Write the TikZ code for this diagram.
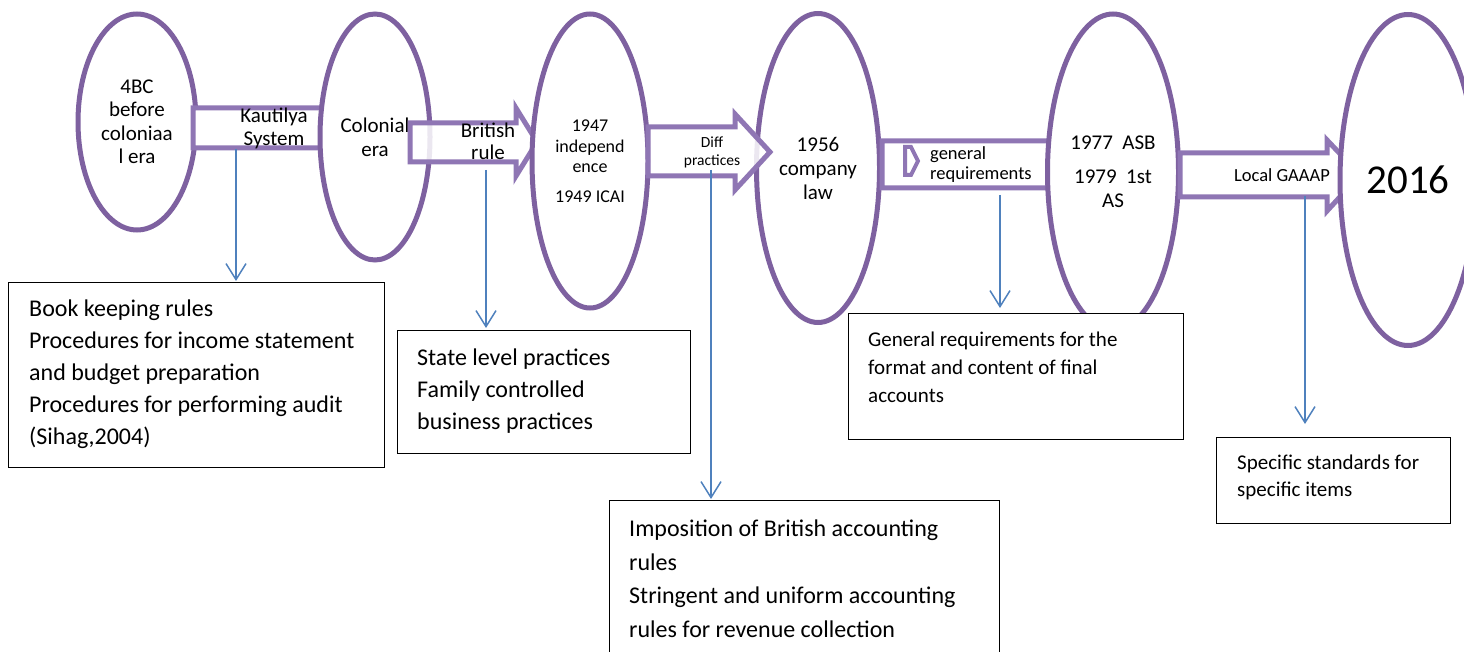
\documentclass[tikz,border=0pt]{standalone}
\usepackage{fontspec}
\setmainfont{Carlito}
\usetikzlibrary{shapes.geometric,arrows.meta}
\definecolor{ellc}{RGB}{126,97,160}
\definecolor{arrc}{RGB}{143,118,180}
\definecolor{bluec}{RGB}{79,129,189}
\begin{document}
\begin{tikzpicture}[x=1pt,y=-1pt,
  era/.style={ellipse, draw=ellc, line width=5pt, fill=white, align=center, inner sep=0pt,
              font=\fontsize{21}{24}\selectfont},
  barrow/.style={draw=arrc, line width=5pt, fill=white, fill opacity=0.85, line join=miter},
  arrtext/.style={align=center, inner sep=0pt},
  infobox/.style={draw=black, line width=1.2pt, fill=white, inner sep=0pt},
  infotext/.style={align=left, inner sep=0pt, anchor=west},
  lead/.style={draw=bluec, line width=1.5pt, -{Straight Barb[length=16pt,width=20pt,line width=1.5pt]}},
]
\useasboundingbox (0,0) rectangle (1464,652);
\clip (0,0) rectangle (1464,652);

% ellipse 1 and first block arrow (its head is hidden by ellipse 2)
\node[era, minimum width=118pt, minimum height=216pt, font=\fontsize{21}{23.5}\selectfont] (e1) at (137,122)
  {4BC\\before\\coloniaa\\l era};
\path[barrow, fill opacity=1] (193,108) -- (345,108) -- (345,96) -- (372,128) -- (345,160) -- (345,148) -- (193,148) -- cycle;

\node[era, minimum width=110pt, minimum height=246pt] (e2) at (375,137) {Colonial\\era};

% block arrow 2
\path[barrow] (410,123) -- (516,123) -- (516,108) -- (537,142) -- (516,176) -- (516,162) -- (410,162) -- cycle;

\node[era, minimum width=116pt, minimum height=294pt, font=\fontsize{18}{20.5}\selectfont] (e3) at (590,161)
  {1947\\independ\\ence\\[9pt]1949 ICAI};
\node[era, minimum width=123pt, minimum height=309pt] (e4) at (818,168) {1956\\company\\law};

% block arrow 3 (on top of ellipse 4)
\path[barrow] (648,127) -- (735,127) -- (735,114) -- (770,152) -- (735,190) -- (735,176) -- (648,176) -- cycle;

% block arrow 4 (head hidden by ellipse 5)
\path[barrow, fill opacity=1] (882,141) -- (1075,141) -- (1075,128) -- (1105,165) -- (1075,202) -- (1075,188) -- (882,188) -- cycle;
\path[draw=arrc, line width=4pt, line join=miter] (905,147) -- (911,147) -- (918,161) -- (911,175) -- (905,175) -- cycle;

\node[era, minimum width=131pt, minimum height=316pt] (e5) at (1113,172)
  {1977~~ASB\\[10pt]1979~~1st\\AS};

% block arrow 5 (cut by ellipse 6)
\path[barrow] (1180,153) -- (1327,153) -- (1327,140) -- (1360,175) -- (1327,211) -- (1327,197) -- (1180,197) -- cycle;

\node[era, minimum width=136pt, minimum height=331pt, font=\fontsize{41}{44}\selectfont] (e6) at (1408,180) {2016};

% block arrow labels
\node[arrtext, font=\fontsize{21}{23}\selectfont] (t1) at (274,128) {Kautilya\\System};
\node[arrtext, font=\fontsize{21}{22}\selectfont] (t2) at (488,141) {British\\rule};
\node[arrtext, font=\fontsize{15.5}{18}\selectfont] (t3) at (712,152) {Diff\\practices};
\node[arrtext, align=left, anchor=west, font=\fontsize{18.5}{20}\selectfont] (t4) at (930,165) {general\\requirements};
\node[arrtext, font=\fontsize{18.5}{20}\selectfont] (t5) at (1282,175) {Local GAAAP};

% boxes
\node[infobox, minimum width=376pt, minimum height=185pt, anchor=north west] (b1) at (8,282) {};
\node[infotext, font=\fontsize{24}{32}\selectfont] (bt1) at (29,374)
  {Book keeping rules\\Procedures for income statement\\and budget preparation\\Procedures for performing audit\\(Sihag,2004)};

\node[infobox, minimum width=293pt, minimum height=123pt, anchor=north west] (b2) at (397,330) {};
\node[infotext, font=\fontsize{24}{32}\selectfont] (bt2) at (417,391)
  {State level practices\\Family controlled\\business practices};

\node[infobox, minimum width=335pt, minimum height=126pt, anchor=north west] (b3) at (848,313) {};
\node[infotext, font=\fontsize{21}{28}\selectfont] (bt3) at (868,367)
  {General requirements for the\\format and content of final\\accounts};

\node[infobox, minimum width=234pt, minimum height=86pt, anchor=north west] (b4) at (1216,437) {};
\node[infotext, font=\fontsize{21}{27}\selectfont] (bt4) at (1237,477)
  {Specific standards for\\specific items};

\node[infobox, minimum width=390pt, minimum height=170pt, anchor=north west] (b5) at (609,500) {};
\node[infotext, font=\fontsize{24}{33.5}\selectfont] (bt5) at (629,579)
  {Imposition of British accounting\\rules\\Stringent and uniform accounting\\rules for revenue collection};

% leader arrows
\coordinate (l1s) at (236,149); \coordinate (l1e) at (236,281);
\coordinate (l2s) at (486,170); \coordinate (l2e) at (486,328);
\coordinate (l3s) at (711,170); \coordinate (l3e) at (711,499);
\coordinate (l4s) at (1000,195); \coordinate (l4e) at (1000,308);
\coordinate (l5s) at (1305,196); \coordinate (l5e) at (1305,424);
\draw[lead] (l1s) -- (l1e);
\draw[lead] (l2s) -- (l2e);
\draw[lead] (l3s) -- (l3e);
\draw[lead] (l4s) -- (l4e);
\draw[lead] (l5s) -- (l5e);
\end{tikzpicture}
\end{document}
